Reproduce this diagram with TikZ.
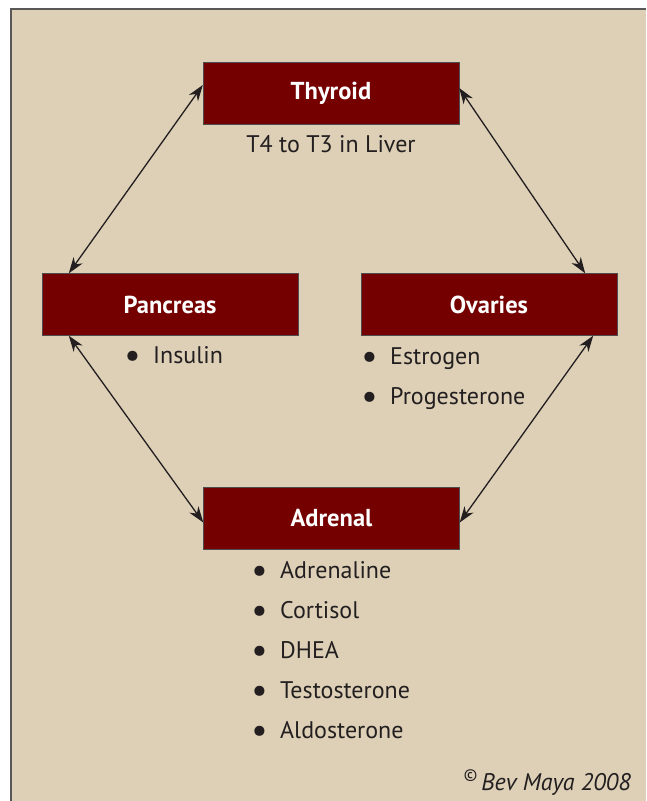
\documentclass[tikz,border=0pt]{standalone}
\usepackage{fontspec}
\setmainfont{PT Sans}
\usetikzlibrary{arrows.meta}
\definecolor{mbeige}{HTML}{DDD0B6}
\definecolor{mmaroon}{HTML}{740000}
\definecolor{mink}{HTML}{231F20}
\tikzset{gland/.style = {draw=mink!80, fill=mmaroon, text=white, font=\bfseries\fontsize{24.5}{28}\selectfont, minimum width=256, minimum height=62, inner sep=0}}
\tikzset{item/.style = {anchor=base west, inner sep=0, text=mink, font=\fontsize{24}{28}\selectfont}}
\tikzset{link/.style = {{Stealth[length=16pt, width=11pt, inset=5pt]}-{Stealth[length=16pt, width=11pt, inset=5pt]}, line width=1.3pt, mink}}
\newcommand{\bul}{\llap{\raisebox{-4pt}{\scalebox{1.5}{\textbullet}}\hspace{12.5pt}}}

\begin{document}
\begin{tikzpicture}[x=1pt, y=-1pt]
      \useasboundingbox (0, 0) rectangle (646, 801);
      \fill [white] (0, 0) rectangle (646, 801);
      \fill [mbeige] (11, 9) rectangle (646, 801);
      \draw [line width=1.5pt, mink!75] (11, 801) -- (11, 9) -- (646, 9);

      \node [gland] (thyroid) at (331, 93) {Thyroid};
      \node [gland] (pancreas) at (170, 304.5) {Pancreas};
      \node [gland] (ovaries) at (489, 304.5) {Ovaries};
      \node [gland] (adrenal) at (331.5, 518.5) {Adrenal};

      \node [item, anchor=base] (liver) at (331, 152) {T4 to T3 in Liver};

      \node [item] (insulin) at (153, 363) {\bul Insulin};
      \node [item] (estrogen) at (390, 364) {\bul Estrogen};
      \node [item] (progesterone) at (390, 404) {\bul Progesterone};

      \foreach \name [count=\i from 0] in {Adrenaline, Cortisol, DHEA, Testosterone, Aldosterone}
        \node [item] (adr\i) at (280, 578 + 40*\i) {\bul\name};

      \node [item, anchor=base east, font=\itshape\fontsize{24}{28}\selectfont] (credit) at (631, 790) {\textsuperscript{\textcopyright}\,Bev Maya 2008};

      \draw [link] ([yshift=8pt]thyroid.west) -- ([xshift=27pt]pancreas.north west);
      \draw [link] ([yshift=5pt]thyroid.east) -- ([xshift=-32pt]ovaries.north east);
      \draw [link] ([xshift=27pt]pancreas.south west) -- ([yshift=-4pt]adrenal.west);
      \draw [link] ([xshift=-24pt]ovaries.south east) -- ([yshift=-4pt]adrenal.east);
\end{tikzpicture}
\end{document}
